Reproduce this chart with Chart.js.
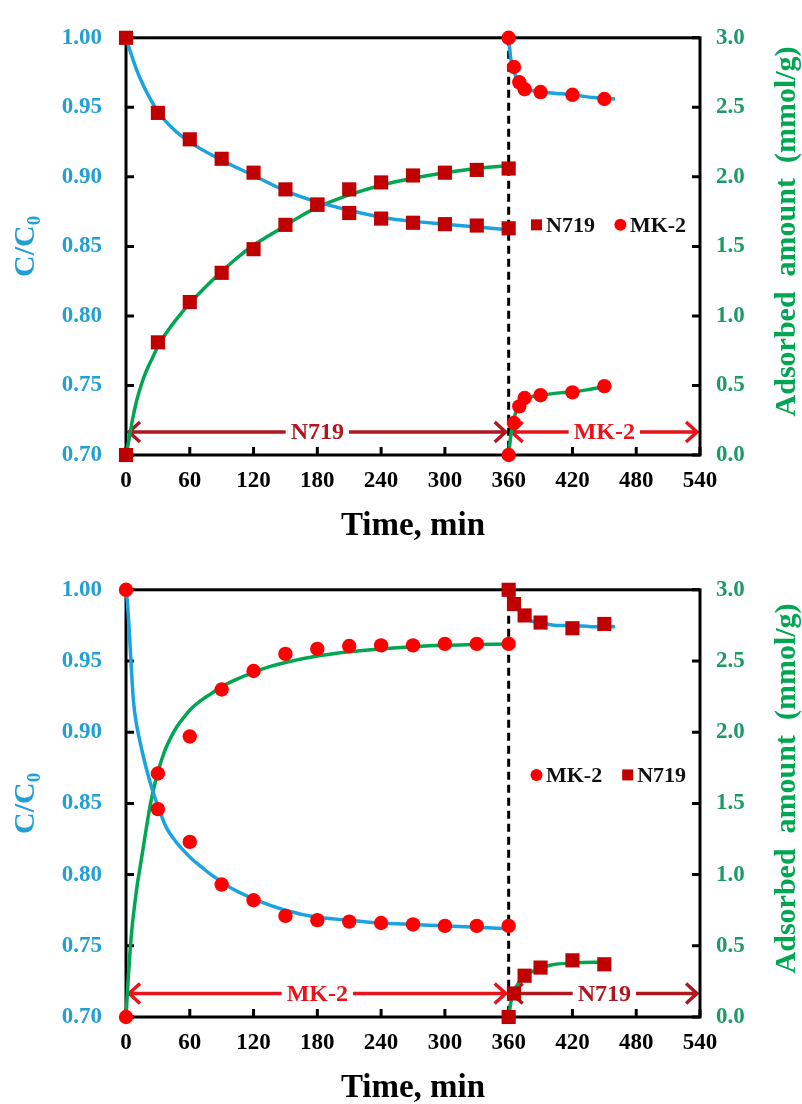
<!DOCTYPE html>
<html lang="en">
<head>
<meta charset="UTF-8">
<title>Sequential dye adsorption kinetics</title>
<script src="https://cdn.jsdelivr.net/npm/chart.js"></script>
<style>
  body { margin: 0; background: #ffffff; }
  .panel { position: relative; width: 802px; height: 552px; }
</style>
</head>
<body>
<div class="panel"><canvas id="chartTop"></canvas></div>
<div class="panel"><canvas id="chartBottom"></canvas></div>
<script>
// ---------- top panel: N719 first, MK-2 added at 360 min ----------
const topN719Time = [0, 30, 60, 90, 120, 150, 180, 210, 240, 270, 300, 330, 360];
const topN719Conc = [1.00, 0.946, 0.927, 0.913, 0.903, 0.891, 0.880, 0.874, 0.870, 0.867, 0.866, 0.865, 0.863];
const topN719Ads  = [0, 0.81, 1.10, 1.31, 1.48, 1.655, 1.80, 1.91, 1.96, 2.01, 2.03, 2.05, 2.06];
const topMK2Time  = [360, 365, 370, 375, 390, 420, 450];
const topMK2Conc  = [1.00, 0.979, 0.968, 0.963, 0.961, 0.959, 0.956];
const topMK2Ads   = [0, 0.23, 0.35, 0.41, 0.43, 0.45, 0.495];

// fitted curves
const topFitConc1Time = [0, 5, 10, 15, 20, 30, 45, 60, 90, 120, 150, 180, 210, 240, 270, 300, 330, 360];
const topFitConc1     = [1.00, 0.988, 0.977, 0.968, 0.960, 0.947, 0.934, 0.925, 0.912, 0.901, 0.890, 0.882, 0.876, 0.871, 0.868, 0.866, 0.864, 0.862];
const topFitAds1Time  = [0, 3, 6, 10, 15, 20, 25, 30, 40, 50, 60, 75, 90, 105, 120, 135, 150, 165, 180, 210, 240, 270, 300, 330, 360];
const topFitAds1      = [0, 0.12, 0.25, 0.39, 0.52, 0.62, 0.70, 0.78, 0.90, 1.00, 1.09, 1.21, 1.32, 1.42, 1.51, 1.58, 1.65, 1.72, 1.78, 1.87, 1.94, 1.99, 2.03, 2.06, 2.08];
const topFitConc2Time = [360, 362, 365, 368, 372, 378, 390, 405, 420, 440, 460];
const topFitConc2     = [1.00, 0.985, 0.976, 0.970, 0.966, 0.963, 0.961, 0.960, 0.959, 0.957, 0.956];
const topFitAds2Time  = [360, 362, 364, 367, 370, 375, 382, 390, 405, 420, 435, 450];
const topFitAds2      = [0, 0.14, 0.24, 0.31, 0.35, 0.39, 0.42, 0.43, 0.445, 0.455, 0.47, 0.49];

// ---------- bottom panel: MK-2 first, N719 added at 360 min ----------
const botMK2Time  = [0, 30, 60, 90, 120, 150, 180, 210, 240, 270, 300, 330, 360];
const botMK2Conc  = [1.00, 0.846, 0.823, 0.793, 0.782, 0.771, 0.768, 0.767, 0.766, 0.765, 0.764, 0.764, 0.764];
const botMK2Ads   = [0, 1.71, 1.97, 2.30, 2.43, 2.55, 2.585, 2.605, 2.61, 2.61, 2.62, 2.62, 2.62];
const botN719Time = [360, 365, 375, 390, 420, 450];
const botN719Conc = [1.00, 0.990, 0.982, 0.977, 0.973, 0.976];
const botN719Ads  = [0, 0.165, 0.29, 0.347, 0.398, 0.37];

const botFitConc1Time = [0, 1.5, 3, 4.5, 7, 10, 13, 16, 20, 25, 30, 38, 46, 54, 62, 70, 80, 90, 100, 120, 150, 180, 210, 240, 270, 300, 330, 360];
const botFitConc1     = [1.00, 0.990, 0.972, 0.952, 0.922, 0.905, 0.894, 0.884, 0.872, 0.859, 0.848, 0.833, 0.824, 0.817, 0.811, 0.806, 0.800, 0.795, 0.790, 0.783, 0.775, 0.770, 0.768, 0.766, 0.765, 0.764, 0.763, 0.762];
const botFitAds1Time  = [0, 2, 4, 6, 8.5, 11, 13, 16, 19, 22.6, 26, 30, 36, 42, 48, 55, 62, 70, 80, 90, 105, 120, 135, 150, 180, 210, 240, 270, 300, 330, 360];
const botFitAds1      = [0, 0.26, 0.48, 0.65, 0.81, 0.95, 1.04, 1.18, 1.32, 1.48, 1.60, 1.72, 1.86, 1.96, 2.04, 2.11, 2.17, 2.22, 2.27, 2.32, 2.375, 2.42, 2.46, 2.49, 2.535, 2.565, 2.585, 2.60, 2.61, 2.615, 2.62];
const botFitConc2Time = [360, 362, 365, 370, 375, 382, 390, 405, 420, 440, 460];
const botFitConc2     = [1.00, 0.995, 0.990, 0.985, 0.981, 0.978, 0.977, 0.975, 0.975, 0.974, 0.974];
const botFitAds2Time  = [360, 362, 365, 370, 375, 385, 400, 420, 440, 455];
const botFitAds2      = [0, 0.10, 0.18, 0.245, 0.285, 0.33, 0.365, 0.38, 0.385, 0.385];

const switchTime = 360;
const phaseBounds = [0, 360, 540];
const topPhases = ['N719', 'MK-2'];
const botPhases = ['MK-2', 'N719'];

const DARK_RED = '#c00000';
const RED = '#ff0000';
const BLUE = '#1ba3e0';
const GREEN = '#00a651';
const FONT = "'Liberation Serif', 'Times New Roman', serif";

const dyeStyle = {
    'N719': { color: DARK_RED, shape: 'rect', text: '#b01820' },
    'MK-2': { color: RED, shape: 'circle', text: '#e8141c' }
};

function toPts(xs, ys) {
    return xs.map((x, i) => ({ x: x, y: ys[i] }));
}

function markers(dye, xs, ys, axis) {
    const s = dyeStyle[dye];
    return {
        label: dye, data: toPts(xs, ys), yAxisID: axis, showLine: false,
        pointStyle: s.shape, pointRadius: s.shape === 'rect' ? 10 : 7.2,
        pointHoverRadius: 0,
        backgroundColor: s.color, borderColor: s.color, borderWidth: 0,
        clip: false, order: 0
    };
}

function fit(xs, ys, axis, color) {
    return {
        data: toPts(xs, ys), yAxisID: axis, showLine: true, pointRadius: 0,
        borderColor: color, borderWidth: 3.5, cubicInterpolationMode: 'monotone',
        clip: false, order: 1
    };
}

// frame, inward ticks, dashed switch line, phase arrows and axis titles
const decorPlugin = {
    id: 'decor',
    beforeDatasetsDraw(chart, args, opts) {
        const { ctx, chartArea: a, scales } = chart;
        const x = scales.x, yC = scales.yC, yQ = scales.yQ;
        ctx.save();

        // phase arrows
        const ay = yQ.getPixelForValue(opts.arrowLevel);
        ctx.font = 'bold 24px ' + FONT;
        ctx.textAlign = 'center';
        ctx.textBaseline = 'middle';
        opts.phases.forEach((name, i) => {
            const x0 = x.getPixelForValue(phaseBounds[i]) + 3;
            const x1 = x.getPixelForValue(phaseBounds[i + 1]) - 3;
            const mid = (x0 + x1) / 2;
            const half = ctx.measureText(name).width / 2 + 5;
            const col = dyeStyle[name].text;
            ctx.strokeStyle = col;
            ctx.fillStyle = col;
            ctx.lineWidth = 3.5;
            ctx.beginPath();
            ctx.moveTo(x0, ay); ctx.lineTo(mid - half, ay);
            ctx.moveTo(mid + half, ay); ctx.lineTo(x1, ay);
            ctx.moveTo(x0 + 11, ay - 10); ctx.lineTo(x0, ay); ctx.lineTo(x0 + 11, ay + 10);
            ctx.moveTo(x1 - 11, ay - 10); ctx.lineTo(x1, ay); ctx.lineTo(x1 - 11, ay + 10);
            ctx.stroke();
            ctx.fillText(name, mid, ay + 1);
        });

        // dashed line where the second dye is added
        const sx = x.getPixelForValue(switchTime);
        ctx.strokeStyle = '#000';
        ctx.lineWidth = 3;
        ctx.setLineDash([8, 5]);
        ctx.beginPath();
        ctx.moveTo(sx, a.top); ctx.lineTo(sx, a.bottom);
        ctx.stroke();
        ctx.setLineDash([]);

        // frame with inward ticks
        ctx.strokeRect(a.left, a.top, a.right - a.left, a.bottom - a.top);
        ctx.beginPath();
        x.ticks.forEach(t => {
            const p = x.getPixelForValue(t.value);
            ctx.moveTo(p, a.bottom); ctx.lineTo(p, a.bottom - 8);
        });
        yC.ticks.forEach(t => {
            const p = yC.getPixelForValue(t.value);
            ctx.moveTo(a.left, p); ctx.lineTo(a.left + 8, p);
        });
        yQ.ticks.forEach(t => {
            const p = yQ.getPixelForValue(t.value);
            ctx.moveTo(a.right, p); ctx.lineTo(a.right - 8, p);
        });
        ctx.stroke();
        ctx.restore();
    },
    afterDraw(chart, args, opts) {
        const { ctx, chartArea: a, scales } = chart;
        const cy = (a.top + a.bottom) / 2;
        ctx.save();
        ctx.textBaseline = 'alphabetic';

        // x title
        ctx.fillStyle = '#000';
        ctx.font = 'bold 33px ' + FONT;
        ctx.textAlign = 'center';
        ctx.fillText('Time, min', (a.left + a.right) / 2, a.bottom + 80);

        // left title C/C0 with subscript
        ctx.save();
        ctx.translate(34, cy);
        ctx.rotate(-Math.PI / 2);
        ctx.fillStyle = '#22a0d4';
        ctx.font = 'bold 30px ' + FONT;
        const w1 = ctx.measureText('C/C').width;
        ctx.font = 'bold 19px ' + FONT;
        const w2 = ctx.measureText('0').width;
        ctx.textAlign = 'left';
        ctx.font = 'bold 30px ' + FONT;
        ctx.fillText('C/C', -(w1 + w2) / 2, 0);
        ctx.font = 'bold 19px ' + FONT;
        ctx.fillText('0', -(w1 + w2) / 2 + w1, 6);
        ctx.restore();

        // right title
        ctx.save();
        ctx.translate(795, cy - 15);
        ctx.rotate(-Math.PI / 2);
        ctx.fillStyle = GREEN;
        ctx.font = 'bold 30px ' + FONT;
        ctx.textAlign = 'center';
        ctx.fillText('Adsorbed  amount  (mmol/g)', 0, 0);
        ctx.restore();

        // legend inside the plot
        let lx = scales.x.getPixelForValue(opts.legendAt[0]);
        const ly = scales.yC.getPixelForValue(opts.legendAt[1]);
        ctx.font = 'bold 22px ' + FONT;
        ctx.textAlign = 'left';
        ctx.textBaseline = 'middle';
        opts.legend.forEach(name => {
            const s = dyeStyle[name];
            ctx.fillStyle = s.color;
            if (s.shape === 'rect') {
                ctx.fillRect(lx, ly - 5.5, 11, 11);
            } else {
                ctx.beginPath();
                ctx.arc(lx + 5.5, ly, 6, 0, Math.PI * 2);
                ctx.fill();
            }
            lx += 15;
            ctx.fillStyle = '#111';
            ctx.fillText(name, lx, ly + 1);
            lx += ctx.measureText(name).width + 20;
        });
        ctx.restore();
    }
};

function makeChart(id, datasets, padTop, xHeight, decor) {
    const tickFont = { family: FONT, size: 23, weight: 'bold' };
    return new Chart(document.getElementById(id), {
        type: 'scatter',
        data: { datasets: datasets },
        options: {
            responsive: true,
            maintainAspectRatio: false,
            animation: false,
            layout: { padding: { top: padTop, left: 0, right: 0, bottom: 0 }, autoPadding: false },
            plugins: { legend: { display: false }, tooltip: { enabled: false }, decor: decor },
            scales: {
                x: {
                    type: 'linear', min: 0, max: 540,
                    ticks: { stepSize: 60, color: '#000', font: tickFont, padding: 12, maxRotation: 0 },
                    grid: { display: false, drawTicks: false }, border: { display: false },
                    afterFit(s) { s.height = xHeight; }
                },
                yC: {
                    type: 'linear', position: 'left', min: 0.7, max: 1.0,
                    ticks: { stepSize: 0.05, color: '#22a0d4', font: tickFont, padding: 24,
                             callback: v => v.toFixed(2) },
                    grid: { display: false, drawTicks: false }, border: { display: false },
                    afterFit(s) { s.width = 126; }
                },
                yQ: {
                    type: 'linear', position: 'right', min: 0, max: 3,
                    ticks: { stepSize: 0.5, color: '#1c9a64', font: tickFont, padding: 16,
                             callback: v => v.toFixed(1) },
                    grid: { display: false, drawTicks: false }, border: { display: false },
                    afterFit(s) { s.width = 102; }
                }
            }
        },
        plugins: [decorPlugin]
    });
}

makeChart('chartTop', [
    markers('N719', topN719Time, topN719Conc, 'yC'),
    markers('N719', topN719Time, topN719Ads, 'yQ'),
    markers('MK-2', topMK2Time, topMK2Conc, 'yC'),
    markers('MK-2', topMK2Time, topMK2Ads, 'yQ'),
    fit(topFitConc1Time, topFitConc1, 'yC', BLUE),
    fit(topFitAds1Time, topFitAds1, 'yQ', GREEN),
    fit(topFitConc2Time, topFitConc2, 'yC', BLUE),
    fit(topFitAds2Time, topFitAds2, 'yQ', GREEN)
], 20, 97, { phases: topPhases, arrowLevel: 0.165, legend: ['N719', 'MK-2'], legendAt: [381, 0.8655] });

makeChart('chartBottom', [
    markers('MK-2', botMK2Time, botMK2Conc, 'yC'),
    markers('MK-2', botMK2Time, botMK2Ads, 'yQ'),
    markers('N719', botN719Time, botN719Conc, 'yC'),
    markers('N719', botN719Time, botN719Ads, 'yQ'),
    fit(botFitConc1Time, botFitConc1, 'yC', BLUE),
    fit(botFitAds1Time, botFitAds1, 'yQ', GREEN),
    fit(botFitConc2Time, botFitConc2, 'yC', BLUE),
    fit(botFitAds2Time, botFitAds2, 'yQ', GREEN)
], 30, 87, { phases: botPhases, arrowLevel: 0.165, legend: ['MK-2', 'N719'], legendAt: [381, 0.870] });
</script>
</body>
</html>
